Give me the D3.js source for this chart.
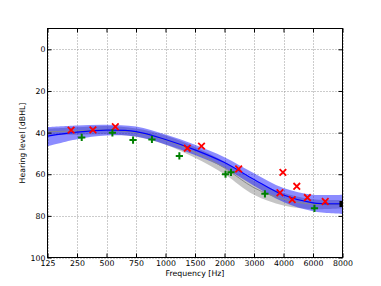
<!DOCTYPE html>
<html>
<head>
<meta charset="utf-8">
<script src="https://cdn.jsdelivr.net/npm/d3@7/dist/d3.min.js"></script>
<style>
  body { margin: 0; background: #fff; }
  svg { display: block; font-family: "DejaVu Sans", sans-serif; }
</style>
</head>
<body>
<div id="chart"></div>
<script>
// audiogram frequencies (ticks), equally spaced on the axis
var freqs = [125, 250, 500, 750, 1000, 1500, 2000, 3000, 4000, 6000, 8000];
var dbTicks = [0, 20, 40, 60, 80, 100];

// model curve (blue) with its band
var blueMean   = [41.7, 39.8, 38.8, 39.5, 43.3, 48.3, 54.4, 62.5, 70.0, 73.8, 74.2];
var blueTop    = [37.4, 36.6, 36.2, 37.1, 40.9, 45.8, 51.8, 59.5, 66.6, 69.8, 69.8];
var blueBottom = [46.6, 43.2, 41.4, 41.9, 45.7, 50.8, 57.0, 65.5, 73.4, 77.8, 79.1];

// reference curve (gray) with its band
var grayMean   = [39.6, 39.2, 38.8, 40.0, 43.6, 49.5, 57.0, 66.5, 72.0, 74.4, 74.4];
var grayTop    = [38.1, 37.4, 36.8, 38.0, 41.4, 46.9, 54.0, 63.1, 69.0, 72.0, 72.4];
var grayBottom = [41.1, 41.0, 40.8, 42.0, 45.8, 52.1, 60.0, 69.9, 75.0, 76.8, 76.4];

// measured thresholds
var redFreq = [225, 385, 575, 1370, 1610, 2480, 3980, 4900, 3880, 4590, 5620, 6830];
var redDb   = [38.8, 38.7, 37.2, 47.5, 46.5, 57.5, 59.1, 65.8, 68.9, 72.2, 71.2, 73.1];
var greenFreq = [290, 550, 725, 885, 1235, 2035, 2220, 3370, 6100];
var greenDb   = [42.3, 40.1, 43.6, 43.3, 51.2, 60.0, 59.1, 69.4, 76.4];
var blackFreq = [8000];
var blackDb   = [74.3];

var width = 381, height = 286;
var padL = 47.5, padR = 342.5, padT = 28.5, padB = 257.5;

var svg = d3.select("#chart").append("svg")
  .attr("width", width)
  .attr("height", height);

// polylinear scale: each audiogram frequency gets an equal step
var step = (padR - padL) / (freqs.length - 1);
var x = d3.scaleLinear()
  .domain(freqs)
  .range(freqs.map(function(d, i) { return padL + i * step; }));
var y = d3.scaleLinear().domain([-10, 100]).range([padT, padB]);

svg.append("clipPath").attr("id", "plotclip")
  .append("rect")
  .attr("x", padL).attr("y", padT)
  .attr("width", padR - padL).attr("height", padB - padT);

// grid
var grid = svg.append("g").attr("class", "grid");
grid.selectAll("line.gx").data(freqs).enter().append("line")
  .attr("x1", function(d) { return Math.round(x(d)) + 0.5; })
  .attr("x2", function(d) { return Math.round(x(d)) + 0.5; })
  .attr("y1", padT).attr("y2", padB)
  .attr("stroke", "#999").attr("stroke-dasharray", "1,2");
grid.selectAll("line.gy").data(dbTicks).enter().append("line")
  .attr("y1", function(d) { return Math.round(y(d)) + 0.5; })
  .attr("y2", function(d) { return Math.round(y(d)) + 0.5; })
  .attr("x1", padL).attr("x2", padR)
  .attr("stroke", "#999").attr("stroke-dasharray", "1,2");

var plot = svg.append("g").attr("clip-path", "url(#plotclip)");

var curve = d3.curveCatmullRom.alpha(0.5);
function band(lo, hi) {
  return d3.area()
    .x(function(d, i) { return x(freqs[i]); })
    .y0(function(d, i) { return y(lo[i]); })
    .y1(function(d, i) { return y(hi[i]); })
    .curve(curve)(freqs);
}
function line(vals) {
  return d3.line()
    .x(function(d, i) { return x(freqs[i]); })
    .y(function(d, i) { return y(vals[i]); })
    .curve(curve)(freqs);
}

plot.append("path").attr("d", band(grayTop, grayBottom))
  .attr("fill", "#8c8c8c").attr("fill-opacity", 0.5);
plot.append("path").attr("d", band(blueTop, blueBottom))
  .attr("fill", "#0000ff").attr("fill-opacity", 0.45);
plot.append("path").attr("d", line(grayMean))
  .attr("fill", "none").attr("stroke", "#8a8a8a").attr("stroke-width", 1);
plot.append("path").attr("d", line(blueMean))
  .attr("fill", "none").attr("stroke", "#0000ff").attr("stroke-width", 1.2);

// red crosses
var s = 3.3;
plot.selectAll("path.red").data(redFreq).enter().append("path")
  .attr("d", function(d, i) {
    var cx = x(d), cy = y(redDb[i]);
    return "M" + (cx - s) + "," + (cy - s) + "L" + (cx + s) + "," + (cy + s) +
           "M" + (cx - s) + "," + (cy + s) + "L" + (cx + s) + "," + (cy - s);
  })
  .attr("stroke", "#ff0000").attr("stroke-width", 1.8).attr("fill", "none");

// green pluses
var g = 3.6;
plot.selectAll("path.green").data(greenFreq).enter().append("path")
  .attr("d", function(d, i) {
    var cx = x(d), cy = y(greenDb[i]);
    return "M" + (cx - g) + "," + cy + "L" + (cx + g) + "," + cy +
           "M" + cx + "," + (cy - g) + "L" + cx + "," + (cy + g);
  })
  .attr("stroke", "#008000").attr("stroke-width", 2).attr("fill", "none");

// black square
plot.selectAll("rect.black").data(blackFreq).enter().append("rect")
  .attr("x", function(d) { return x(d) - 3; })
  .attr("y", function(d, i) { return y(blackDb[i]) - 3; })
  .attr("width", 6).attr("height", 6)
  .attr("fill", "#000");

// axes, ticks inside on all four sides
var fmt = function(d) { return d; };
var xAxis = svg.append("g").attr("transform", "translate(0," + padB + ")")
  .call(d3.axisBottom(x).tickValues(freqs).tickFormat(fmt).tickSize(-4).tickPadding(3));
var yAxis = svg.append("g").attr("transform", "translate(" + padL + ",0)")
  .call(d3.axisLeft(y).tickValues(dbTicks).tickFormat(fmt).tickSize(-4).tickPadding(2));
var xTop = svg.append("g").attr("transform", "translate(0," + padT + ")")
  .call(d3.axisTop(x).tickValues(freqs).tickFormat("").tickSize(-4));
var yRight = svg.append("g").attr("transform", "translate(" + padR + ",0)")
  .call(d3.axisRight(y).tickValues(dbTicks).tickFormat("").tickSize(-4));

[xAxis, yAxis, xTop, yRight].forEach(function(a) {
  a.select(".domain").remove();
  a.selectAll("line").attr("stroke", "#000");
  a.selectAll("text").attr("font-size", "7.8px").attr("fill", "#000")
    .attr("font-family", "DejaVu Sans, sans-serif");
});

// frame
svg.append("rect")
  .attr("x", padL).attr("y", padT)
  .attr("width", padR - padL).attr("height", padB - padT)
  .attr("fill", "none").attr("stroke", "#000").attr("stroke-width", 1);

// axis labels
svg.append("text")
  .attr("x", (padL + padR) / 2).attr("y", 276)
  .attr("text-anchor", "middle")
  .attr("font-size", "7.8px")
  .text("Frequency [Hz]");
svg.append("text")
  .attr("transform", "translate(25," + ((padT + padB) / 2) + ") rotate(-90)")
  .attr("text-anchor", "middle")
  .attr("font-size", "7.8px")
  .text("Hearing level [dBHL]");
</script>
</body>
</html>
